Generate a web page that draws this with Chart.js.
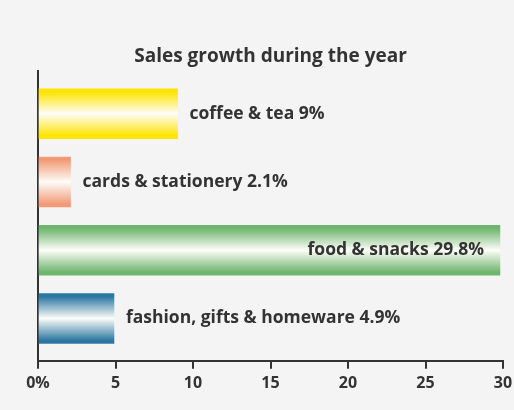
<!DOCTYPE html>
<html lang="en">
<head>
  <meta charset="UTF-8">
  <title>Sales growth during the year</title>
  <script src="https://cdn.jsdelivr.net/npm/chart.js"></script>
  <style>
    body { margin: 0; background: #f4f4f4; }
    #wrap { position: relative; width: 514px; height: 410px; }
  </style>
</head>
<body>
  <div id="wrap">
    <canvas id="myChart"></canvas>
  </div>
  <script>
    // data
    const categories = ['coffee & tea', 'cards & stationery', 'food & snacks', 'fashion, gifts & homeware'];
    const growth = [9, 2.1, 29.8, 4.9];
    const valueLabels = ['9%', '2.1%', '29.8%', '4.9%'];
    const barColors = ['#ffe400', '#f29a78', '#6db56d', '#2b77a2'];
    const xTickLabels = ['0%', '5', '10', '15', '20', '25', '30'];

    const FONT = '"Open Sans", Lato, sans-serif';
    const INK = '#333';

    // vertical "tube" gradient for each bar
    function barGradient(context) {
      const chart = context.chart;
      if (!chart.chartArea || context.dataIndex === undefined) return barColors[0];
      const yScale = chart.scales.y;
      const cy = yScale.getPixelForValue(context.dataIndex);
      const c = barColors[context.dataIndex];
      const g = chart.ctx.createLinearGradient(0, cy - 25, 0, cy + 25);
      g.addColorStop(0, c);
      g.addColorStop(0.06, c);
      g.addColorStop(0.5, '#fdfdf8');
      g.addColorStop(0.94, c);
      g.addColorStop(1, c);
      return g;
    }

    // category text next to / inside each bar
    const barLabels = {
      id: 'barLabels',
      afterDatasetsDraw(chart) {
        const ctx = chart.ctx;
        const meta = chart.getDatasetMeta(0);
        ctx.save();
        ctx.font = 'bold 17.5px ' + FONT;
        ctx.fillStyle = INK;
        ctx.textBaseline = 'middle';
        meta.data.forEach((bar, i) => {
          const text = categories[i] + ' ' + valueLabels[i];
          if (growth[i] > 20) {
            ctx.textAlign = 'right';
            ctx.fillText(text, bar.x - 16, bar.y);
          } else {
            ctx.textAlign = 'left';
            ctx.fillText(text, bar.x + 12, bar.y);
          }
        });
        ctx.restore();
      }
    };

    const ctx = document.getElementById('myChart').getContext('2d');
    new Chart(ctx, {
      type: 'bar',
      data: {
        datasets: [{
          data: growth.map((v, i) => ({ x: v, y: i })),
          backgroundColor: barGradient,
          borderWidth: 0,
          barThickness: 50
        }]
      },
      plugins: [barLabels],
      options: {
        indexAxis: 'y',
        responsive: true,
        maintainAspectRatio: false,
        animation: false,
        layout: { padding: { left: 30, right: 11, top: 0, bottom: 12 } },
        plugins: {
          legend: { display: false },
          tooltip: { enabled: false },
          title: {
            display: true,
            fullSize: false,
            text: 'Sales growth during the year',
            color: INK,
            font: { family: FONT, size: 19, weight: 'bold' },
            padding: { top: 45, bottom: 3 }
          }
        },
        scales: {
          x: {
            type: 'linear',
            min: 0,
            max: 30,
            afterFit: (s) => { s.paddingRight = 0; },
            grid: { drawOnChartArea: false, tickLength: 8, color: INK, lineWidth: 2 },
            border: { color: INK, width: 2 },
            ticks: {
              stepSize: 5,
              padding: 5,
              color: INK,
              font: { family: FONT, size: 16, weight: 'bold' },
              callback: (v) => xTickLabels[v / 5]
            }
          },
          y: {
            type: 'linear',
            min: -0.63,
            max: 3.62,
            reverse: true,
            offset: false,
            grid: { display: false },
            border: { color: INK, width: 2 },
            ticks: { display: false }
          }
        }
      }
    });
  </script>
</body>
</html>
